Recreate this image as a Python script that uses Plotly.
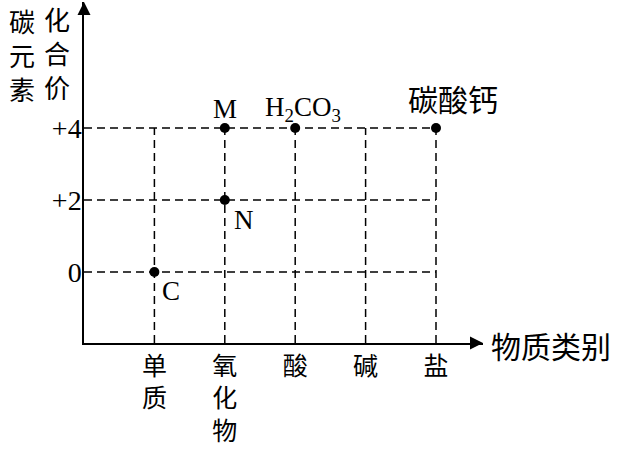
import plotly.graph_objects as go

# ---- data ----
categories = ["单质", "氧化物", "酸", "碱", "盐"]
valence_ticks = [0, 2, 4]
valence_labels = ["0", "+2", "+4"]
point_names = ["C", "N", "M", "H<sub>2</sub>CO<sub>3</sub>", "碳酸钙"]
point_cats = ["单质", "氧化物", "氧化物", "酸", "盐"]
point_vals = [0, 2, 4, 4, 4]
y_title_cols = ["碳元素", "化合价"]
x_title = "物质类别"

# ---- layout geometry (pixels) ----
W, H = 621, 449
L, R, T, B = 84, 483, 2, 343
X_MIN, X_MAX = -1.0, -1.0 + (R - L) / 70.4
Y_MIN, Y_MAX = -1.97, 7.5

def px(x, y):
    return (x - L) / (R - L), (B - y) / (B - T)

SERIF = "Liberation Serif, Times New Roman, Noto Sans CJK SC"
CJK = "Noto Sans CJK SC, Liberation Serif"

xi = [categories.index(c) for c in point_cats]

fig = go.Figure()
fig.add_trace(go.Scatter(
    x=xi, y=point_vals, mode="markers",
    marker=dict(size=10, color="black"),
    hoverinfo="skip", showlegend=False, cliponaxis=False))
# axis arrowheads at the ends of the axes
fig.add_trace(go.Scatter(
    x=[X_MAX, X_MIN], y=[Y_MIN, Y_MAX], mode="markers",
    marker=dict(symbol=["arrow-right", "arrow-up"], size=13, color="black",
                line=dict(width=0)),
    hoverinfo="skip", showlegend=False, cliponaxis=False))

shapes = []
dash = dict(color="black", width=1.5, dash="8px,5px")
top_val = max(valence_ticks)
for i in range(len(categories)):
    shapes.append(dict(type="line", xref="x", yref="y", x0=i, x1=i,
                       y0=Y_MIN, y1=top_val, line=dash, layer="below"))
for v in valence_ticks:
    shapes.append(dict(type="line", xref="x", yref="y", x0=X_MIN,
                       x1=len(categories) - 1, y0=v, y1=v, line=dash, layer="below"))

annotations = []
# point labels (pixel offsets)
offsets = [(17, -19), (19, -20), (0, 19), (8, 19), (17, 30)]
for name, x, y, (dx, dy) in zip(point_names, xi, point_vals, offsets):
    cjk = name == "碳酸钙"
    annotations.append(dict(x=x, y=y, xref="x", yref="y", text=name,
                            showarrow=False, xshift=dx, yshift=dy,
                            font=dict(family=CJK if cjk else SERIF,
                                      size=30 if cjk else 27, color="black")))
# y-axis title, two vertical columns
col_pos = [(22, 55), (57, 53)]
for txt, (cx, cy) in zip(y_title_cols, col_pos):
    xp, yp = px(cx, cy)
    annotations.append(dict(x=xp, y=yp, xref="paper", yref="paper",
                            text="<br>".join(txt), showarrow=False,
                            xanchor="center", yanchor="middle",
                            font=dict(family=CJK, size=26, color="black")))
# x-axis title
xp, yp = px(489, 345)
annotations.append(dict(x=xp, y=yp, xref="paper", yref="paper", text=x_title,
                        showarrow=False, xanchor="left", yanchor="middle",
                        font=dict(family=CJK, size=30, color="black")))

fig.update_layout(
    width=W, height=H,
    margin=dict(l=L, r=W - R, t=T, b=H - B, pad=0, autoexpand=False),
    paper_bgcolor="white", plot_bgcolor="white",
    shapes=shapes, annotations=annotations,
    xaxis=dict(range=[X_MIN, X_MAX], tickvals=list(range(len(categories))),
               ticktext=["<br>".join(c) for c in categories], automargin=False,
               showgrid=False, zeroline=False, showline=True, linecolor="black",
               linewidth=1.5, ticks="", tickfont=dict(family=CJK, size=25, color="black")),
    yaxis=dict(range=[Y_MIN, Y_MAX], tickvals=valence_ticks, ticktext=valence_labels,
               automargin=False, ticklabelstandoff=-5,
               showgrid=False, zeroline=False, showline=True, linecolor="black",
               linewidth=1.5, ticks="", tickfont=dict(family=SERIF, size=28, color="black")),
)

fig.write_html("out.html", config={"displayModeBar": False},
               post_script="document.body.style.margin='0';")
